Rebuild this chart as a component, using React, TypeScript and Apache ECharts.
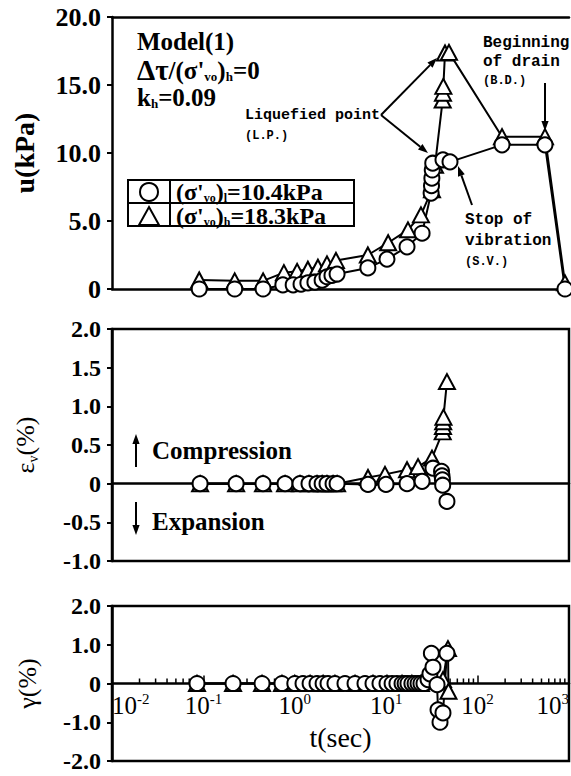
import React, { useEffect, useRef } from 'react';
import * as echarts from 'echarts';

const SERIF = '"Liberation Serif", "DejaVu Serif", serif';
const MONO = '"Liberation Mono", "DejaVu Sans Mono", monospace';

const nameL = "(σ'vo)l=10.4kPa";
const nameH = "(σ'vo)h=18.3kPa";

// ---- u (kPa) panel ----
const tTopL = [0.09, 0.22, 0.45, 0.74, 0.96, 1.17, 1.39, 1.66, 1.99, 2.25, 2.55, 2.9, 6.3, 10.2, 16.9, 24.7, 31.0, 31.3, 31.6, 31.9, 32.3, 41.8, 49.9, 185, 546, 904];
const uTopL = [0, 0, 0, 0.3, 0.3, 0.35, 0.45, 0.5, 0.65, 0.9, 1.0, 1.1, 1.55, 2.2, 3.1, 4.1, 7.05, 7.6, 8.15, 8.75, 9.25, 9.5, 9.35, 10.6, 10.6, 0];
const tTopH = [0.09, 0.22, 0.45, 0.76, 1.06, 1.39, 1.79, 2.25, 2.82, 6.3, 10.5, 17.3, 24.0, 31.7, 34.2, 41.5, 41.8, 42.2, 44.0, 48.6, 185, 546, 904];
const uTopH = [0.66, 0.6, 0.6, 1.2, 1.3, 1.45, 1.6, 1.85, 2.1, 2.5, 3.4, 4.35, 5.45, 7.3, 9.1, 13.9, 14.4, 14.9, 17.35, 17.4, 11.2, 11.2, 0.45];

// ---- εv (%) panel ----
const tMidL = [0.092, 0.228, 0.449, 0.782, 1.14, 1.43, 1.75, 1.99, 2.25, 2.62, 2.9, 6.32, 9.95, 16.9, 24.7, 32.5, 40.3, 40.8, 41.2, 41.5, 46.2];
const eMidL = [0, 0, 0, 0, 0, 0, 0, 0, 0, 0, 0, -0.01, -0.01, 0, 0.03, 0.2, 0.16, 0.1, 0.05, -0.02, -0.23];
const tMidH = [0.092, 0.228, 0.449, 0.782, 1.14, 1.43, 1.75, 1.99, 2.25, 2.62, 2.9, 6.32, 9.7, 16.9, 22.3, 31.7, 41.5, 41.8, 42.0, 42.3, 46.2];
const eMidH = [0, 0, 0, 0, 0, 0, 0, 0, 0, 0, 0, 0.08, 0.12, 0.18, 0.22, 0.33, 0.67, 0.74, 0.8, 0.86, 1.32];

// ---- γ (%) panel ----
const tBotL = [0.0851, 0.211, 0.438, 0.724, 1.0, 1.23, 1.47, 1.75, 2.04, 2.31, 2.75, 3.54, 4.56, 5.86, 7.17, 8.55, 10.2, 11.6, 13.1, 14.9, 16.1, 17.3, 19.1, 20.7, 22.3, 24.0, 25.9, 28.7, 30.1, 31.2, 32.5, 36.0, 36.9, 38.8, 41.8, 46.2];
const gBotL = [0, 0, 0, 0, 0, 0, 0, 0, 0, 0, 0, 0, 0, 0, 0, 0, 0, 0, 0, 0, 0, 0, 0, 0, 0, 0, 0, 0.1, 0.25, 0.78, 0.42, -0.03, -0.68, -1.0, -0.76, 0.78];
const tBotH = [0.0851, 0.211, 0.438, 0.724, 1.0, 1.47, 2.04, 2.75, 4.56, 7.17, 10.2, 14.9, 19.1, 24.0, 31.7, 41.8, 47.4, 48.0];
const gBotH = [0, 0, 0, 0, 0, 0, 0, 0, 0, 0, 0, 0, 0, 0, 0.05, 0.1, 0.9, -0.2];

// ---- log-axis minor tick positions ----
const minorMultipliers = [2, 3, 4, 5, 6, 7, 8, 9];
const minorDecades = [0.01, 0.1, 1, 10, 100];

const zip = (a: number[], b: number[]) => a.map((t, i) => [t, b[i]]);

function arrow(x1: number, y1: number, x2: number, y2: number) {
  const dx = x2 - x1, dy = y2 - y1;
  const len = Math.hypot(dx, dy);
  const ux = dx / len, uy = dy / len;
  const nx = -uy, ny = ux;
  const L = 10, W = 3.6;
  const bx = x2 - L * ux, by = y2 - L * uy;
  return [
    { type: 'line', shape: { x1, y1, x2: bx, y2: by }, style: { stroke: '#000', lineWidth: 2 } },
    { type: 'polygon', shape: { points: [[x2, y2], [bx + W * nx, by + W * ny], [bx - W * nx, by - W * ny]] }, style: { fill: '#000' } },
  ];
}

function txt(x: number, y: number, text: string, size: number, family: string, weight = 'bold', rich?: any) {
  return {
    type: 'text', x, y,
    style: { text, fill: '#000', fontSize: size, fontFamily: family, fontWeight: weight, textVerticalAlign: 'middle', textAlign: 'left', rich },
  };
}

const subRich = (size: number) => ({
  a: { fontFamily: SERIF, fontWeight: 'bold', fontSize: size, lineHeight: size, color: '#000' },
  g: { fontFamily: SERIF, fontWeight: 'bold', fontSize: size + 4, lineHeight: size, color: '#000' },
  s: { fontFamily: SERIF, fontWeight: 'bold', fontSize: Math.round(size * 0.5), lineHeight: Math.round(size * 0.5), verticalAlign: 'bottom', color: '#000' },
});

const fmtY = (v: number) => (v === 0 ? '0' : v.toFixed(1));

function lineSeries(name: string, xi: number, yi: number, data: number[][], symbol: string, size: any) {
  return {
    type: 'line', name, xAxisIndex: xi, yAxisIndex: yi, data, symbol, symbolSize: size,
    showAllSymbol: true, silent: true, clip: false,
    lineStyle: { color: '#000', width: 2 },
    itemStyle: { color: '#fff', borderColor: '#000', borderWidth: 2 },
    emphasis: { disabled: true },
  };
}

const yAxisCommon = (min: number, max: number, interval: number, size: number) => ({
  type: 'value', min, max, interval,
  axisLine: { show: true, onZero: false, lineStyle: { color: '#000', width: 2.5 } },
  axisTick: { show: true, inside: false, length: 5, lineStyle: { color: '#000', width: 2 } },
  axisLabel: { formatter: fmtY, margin: 11, fontFamily: SERIF, fontSize: size, fontWeight: 'bold', color: '#000' },
  splitLine: { show: false },
  nameLocation: 'middle',
});

const logAxisCommon = {
  type: 'log', logBase: 10, min: 0.01, max: 1000,
  splitLine: { show: false },
  axisLabel: { show: false },
  axisTick: { show: false },
};

// grid geometry (px)
const GL = 112, GW = 457;
const G1T = 329, G1H = 232; // εv: -1..2
const G2T = 606, G2H = 155; // γ: -2..2
const mid0 = G1T + G1H * (2 / 3); // pixel of εv = 0
const bot0 = G2T + G2H / 2; // pixel of γ = 0

export default function App() {
  const ref = useRef<HTMLDivElement>(null);
  useEffect(() => {
    const chart = echarts.init(ref.current!, null, { renderer: 'svg' });
    const minorTickData: number[][] = [];
    minorDecades.forEach((d) => minorMultipliers.forEach((m) => minorTickData.push([m * d, 0])));

    const option: any = {
      animation: false,
      backgroundColor: '#fff',
      grid: [
        { left: GL, top: 17, width: GW, height: 272, outerBoundsMode: 'none' },
        { left: GL, top: G1T, width: GW, height: G1H, show: true, borderColor: '#000', borderWidth: 2.5, outerBoundsMode: 'none' },
        { left: GL, top: G2T, width: GW, height: G2H, show: true, borderColor: '#000', borderWidth: 2.5, outerBoundsMode: 'none' },
      ],
      xAxis: [
        { ...logAxisCommon, gridIndex: 0, axisLine: { show: true, onZero: false, lineStyle: { color: '#000', width: 2.5 } } },
        { gridIndex: 0, type: 'value', position: 'top', min: 0, max: 1, axisLine: { show: true, onZero: false, lineStyle: { color: '#000', width: 2.5 } }, axisTick: { show: false }, axisLabel: { show: false }, splitLine: { show: false } },
        {
          ...logAxisCommon, gridIndex: 1, position: 'bottom', offset: mid0 - (G1T + G1H),
          axisLine: { show: true, onZero: false, lineStyle: { color: '#000', width: 2.5 } },
        },
        {
          ...logAxisCommon, gridIndex: 2, position: 'bottom', offset: bot0 - (G2T + G2H),
          axisLine: { show: true, onZero: false, lineStyle: { color: '#000', width: 2.5 } },
          axisTick: { show: true, inside: true, length: 8, lineStyle: { color: '#000', width: 1.5 } },
          axisLabel: {
            show: true, margin: 8, showMinLabel: true, showMaxLabel: true,
            alignMinLabel: 'left', alignMaxLabel: 'right',
            formatter: (v: number) => `{b|10}{p|${Math.round(Math.log10(v))}}`,
            rich: {
              b: { fontFamily: SERIF, fontSize: 25, lineHeight: 28, color: '#000' },
              p: { fontFamily: SERIF, fontSize: 15, lineHeight: 15, verticalAlign: 'top', color: '#000' },
            },
          },
          name: 't(sec)', nameLocation: 'middle', nameGap: 40,
          nameTextStyle: { fontFamily: SERIF, fontSize: 28, color: '#000' },
        },
      ],
      yAxis: [
        { ...yAxisCommon(0, 20, 5, 26), gridIndex: 0, name: 'u(kPa)', nameGap: 74, nameTextStyle: { fontFamily: SERIF, fontSize: 28, fontWeight: 'bold', color: '#000' } },
        {
          ...yAxisCommon(-1, 2, 0.5, 24), gridIndex: 1, name: '{a|ε}{s|v}{a|(%)}', nameGap: 72,
          nameTextStyle: {
            color: '#000',
            rich: {
              a: { fontFamily: SERIF, fontSize: 26, lineHeight: 30, color: '#000' },
              s: { fontFamily: SERIF, fontSize: 14, lineHeight: 14, verticalAlign: 'bottom', color: '#000' },
            },
          },
        },
        { ...yAxisCommon(-2, 2, 1, 24), gridIndex: 2, name: 'γ(%)', nameGap: 72, nameTextStyle: { fontFamily: SERIF, fontSize: 26, color: '#000' } },
      ],
      legend: {
        orient: 'vertical', left: 138, top: 180, itemWidth: 20, itemHeight: 18, itemGap: 0,
        padding: 0,
        selectedMode: false,
        data: [{ name: nameL, icon: 'circle' }, { name: nameH, icon: 'triangle' }],
        itemStyle: { color: '#fff', borderColor: '#000', borderWidth: 2 },
        formatter: (n: string) =>
          n === nameL
            ? "{g| }{a|(σ'}{s|vo}{a|)}{s|l}{a|=10.4kPa}"
            : "{g| }{a|(σ'}{s|vo}{a|)}{s|h}{a|=18.3kPa}",
        textStyle: {
          fontFamily: SERIF, fontWeight: 'bold', fontSize: 12, lineHeight: 23, color: '#000',
          rich: {
            g: { width: 12, fontSize: 12, lineHeight: 23 },
            a: { fontFamily: SERIF, fontWeight: 'bold', fontSize: 24, lineHeight: 23, color: '#000' },
            s: { fontFamily: SERIF, fontWeight: 'bold', fontSize: 12, lineHeight: 12, verticalAlign: 'bottom', color: '#000' },
          },
        },
      },
      series: [
        lineSeries(nameH, 0, 0, zip(tTopH, uTopH), 'triangle', [16, 15]),
        lineSeries(nameL, 0, 0, zip(tTopL, uTopL), 'circle', 15),
        lineSeries(nameH, 2, 1, zip(tMidH, eMidH), 'triangle', [16, 15]),
        lineSeries(nameL, 2, 1, zip(tMidL, eMidL), 'circle', 15),
        lineSeries(nameH, 3, 2, zip(tBotH, gBotH), 'triangle', [16, 15]),
        lineSeries(nameL, 3, 2, zip(tBotL, gBotL), 'circle', 15),
        {
          type: 'custom', xAxisIndex: 3, yAxisIndex: 2, silent: true, z: 1,
          data: minorTickData,
          renderItem: (params: any, api: any) => {
            const p = api.coord([api.value(0), 0]);
            return { type: 'line', shape: { x1: p[0], y1: p[1], x2: p[0], y2: p[1] - 5 }, style: { stroke: '#000', lineWidth: 1.5 } };
          },
        },
      ],
      graphic: {
        elements: [
          txt(137, 41, 'Model(1)', 25, SERIF),
          txt(137, 70, "{g|Δτ}{a|/(σ'}{s|vo}{a|)}{s|h}{a|=0}", 25, SERIF, 'bold', subRich(25)),
          txt(137, 97, '{a|k}{s|h}{a|=0.09}', 25, SERIF, 'bold', subRich(25)),
          txt(245, 115, 'Liquefied point', 15, MONO),
          txt(245, 136, '(L.P.)', 12, MONO),
          txt(483, 43, 'Beginning', 16, MONO),
          txt(483, 62, 'of drain', 16, MONO),
          txt(483, 81, '(B.D.)', 12, MONO),
          txt(465, 220, 'Stop of', 16, MONO),
          txt(465, 241, 'vibration', 16, MONO),
          txt(465, 262, '(S.V.)', 12, MONO),
          ...arrow(381, 115, 437, 58),
          ...arrow(381, 115, 428, 153),
          ...arrow(545, 83, 545, 131),
          ...arrow(472, 205, 458, 166),
          { type: 'rect', shape: { x: 128, y: 180, width: 226, height: 46 }, style: { fill: 'none', stroke: '#000', lineWidth: 2 } },
          { type: 'line', shape: { x1: 128, y1: 203, x2: 354, y2: 203 }, style: { stroke: '#000', lineWidth: 2 } },
          { type: 'line', shape: { x1: 170, y1: 180, x2: 170, y2: 226 }, style: { stroke: '#000', lineWidth: 2 } },
          txt(152, 450, 'Compression', 25, SERIF),
          txt(152, 521, 'Expansion', 25, SERIF),
          ...arrow(136, 467, 136, 434),
          ...arrow(136, 502, 136, 535),
        ],
      },
    };
    chart.setOption(option);
    return () => chart.dispose();
  }, []);
  return <div ref={ref} style={{ position: 'absolute', left: 0, top: 0, width: 571, height: 776 }} />;
}
